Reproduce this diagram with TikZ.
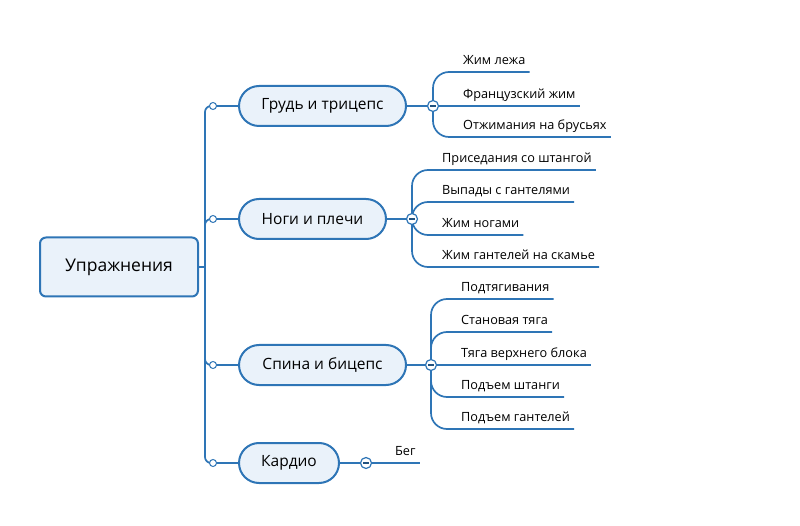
\documentclass[tikz,border=0pt]{standalone}
\usepackage{fontspec}
\setmainfont{Open Sans}
\usetikzlibrary{positioning}
\definecolor{mapblue}{RGB}{46,117,182}
\definecolor{mapfill}{RGB}{234,242,250}
\pgfdeclarelayer{background}
\pgfsetlayers{background,main}

\begin{document}
\begin{tikzpicture}[x=1pt,y=-1pt,
    line/.style={draw=mapblue,line width=1.7pt,rounded corners=16pt},
    trunk/.style={draw=mapblue,line width=1.7pt,rounded corners=6pt},
    root/.style={draw=mapblue,fill=mapfill,line width=2pt,rounded corners=6pt,minimum width=158pt,minimum height=59pt,font=\fontsize{17.5}{20}\selectfont},
    topic/.style={draw=mapblue,fill=mapfill,line width=2pt,rounded corners=20pt,minimum height=40pt,anchor=west,font=\fontsize{15.5}{18}\selectfont},
    knob/.style={circle,draw=mapblue,fill=white,line width=1pt,minimum size=7pt,inner sep=0pt},
    fold/.style={circle,draw=mapblue,fill=white,line width=1.2pt,minimum size=11pt,inner sep=0pt,
      path picture={\draw[mapblue!70!black,line width=1.2pt] ([xshift=-2.8pt]path picture bounding box.center) -- ([xshift=2.8pt]path picture bounding box.center);}},
    leaf/.style={anchor=south west,inner xsep=4pt,inner ysep=4pt,text depth=3pt,font=\fontsize{12.7}{15}\selectfont}]

    \useasboundingbox (0,0) rectangle (800,526);

    % Root
    \node[root] (root) at (119,267) {Упражнения};
    \coordinate (hub) at (205,267);

    % Topics
    \node[topic,minimum width=167pt] (chest) at (238,106) {Грудь и трицепс};
    \node[topic,minimum width=147pt] (legs) at (238,219) {Ноги и плечи};
    \node[topic,minimum width=167pt] (back) at (238,365) {Спина и бицепс};
    \node[topic,minimum width=100pt] (cardio) at (238,463) {Кардио};

    % Knobs on the trunk
    \node[knob] (k1) at (213,106) {};
    \node[knob] (k2) at (213,219) {};
    \node[knob] (k3) at (213,365) {};
    \node[knob] (k4) at (213,463) {};

    % Fold buttons
    \node[fold] (f1) at (433,106) {};
    \node[fold] (f2) at (412,219) {};
    \node[fold] (f3) at (431,365) {};
    \node[fold] (f4) at (366,463) {};

    % Chest and triceps
    \node[leaf] (bench) at (459,72) {Жим лежа};
    \node[leaf] (french) at (459,106) {Французский жим};
    \node[leaf] (dips) at (459,137) {Отжимания на брусьях};

    % Legs and shoulders
    \node[leaf] (squat) at (438,170) {Приседания со штангой};
    \node[leaf] (lunge) at (438,202) {Выпады с гантелями};
    \node[leaf] (press) at (438,235) {Жим ногами};
    \node[leaf] (dbpress) at (438,267) {Жим гантелей на скамье};

    % Back and biceps
    \node[leaf] (pullup) at (457,299) {Подтягивания};
    \node[leaf] (dead) at (457,332) {Становая тяга};
    \node[leaf] (pulldown) at (457,365) {Тяга верхнего блока};
    \node[leaf] (curl) at (457,397) {Подъем штанги};
    \node[leaf] (dbcurl) at (457,429) {Подъем гантелей};

    % Cardio
    \node[leaf] (run) at (391,463) {Бег};

    \begin{pgfonlayer}{background}
    % Trunk
    \draw[trunk] (k1.center) -| (hub) |- (k4.center);
    \draw[trunk] (hub) |- (k2.center);
    \draw[trunk] (hub) |- (k3.center);
    \draw[trunk] (root.east) -- (hub);

    % Topic lines
    \draw[line] (k1.center) -- (chest);
    \draw[line] (k2.center) -- (legs);
    \draw[line] (k3.center) -- (back);
    \draw[line] (k4.center) -- (cardio);
    \draw[line] (chest) -- (f1.center);
    \draw[line] (legs) -- (f2.center);
    \draw[line] (back) -- (f3.center);
    \draw[line] (cardio) -- (f4.center);

    % Leaf lines
    \draw[line] (f1.center) |- (bench.south east);
    \draw[line] (f1.center) -- (french.south east);
    \draw[line] (f1.center) |- (dips.south east);
    \draw[line] (f2.center) |- (squat.south east);
    \draw[line] (f2.center) |- (lunge.south east);
    \draw[line] (f2.center) |- (press.south east);
    \draw[line] (f2.center) |- (dbpress.south east);
    \draw[line] (f3.center) |- (pullup.south east);
    \draw[line] (f3.center) |- (dead.south east);
    \draw[line] (f3.center) -- (pulldown.south east);
    \draw[line] (f3.center) |- (curl.south east);
    \draw[line] (f3.center) |- (dbcurl.south east);
    \draw[line] (f4.center) -- (run.south east);
    \end{pgfonlayer}
\end{tikzpicture}
\end{document}
